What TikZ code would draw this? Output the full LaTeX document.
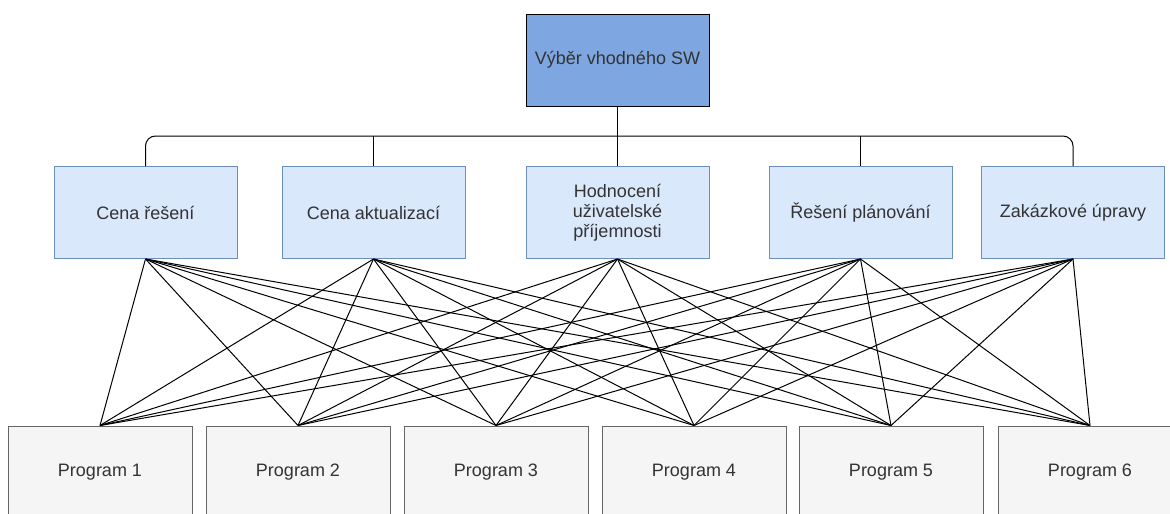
\documentclass[tikz,border=0pt]{standalone}
\usepackage{fontspec}
\setmainfont{Liberation Sans}
\definecolor{topfill}{HTML}{7EA6E0}
\definecolor{midfill}{HTML}{DAE8FC}
\definecolor{midline}{HTML}{6C8EBF}
\definecolor{botfill}{HTML}{F5F5F5}
\definecolor{botline}{HTML}{666666}
\definecolor{txt}{HTML}{333333}
\begin{document}
\begin{tikzpicture}[x=1pt,y=-1pt,
  box/.style={rectangle, minimum width=183pt, minimum height=92pt, inner sep=2pt,
    line width=1pt, text=txt, align=center,
    font=\fontsize{18}{20}\selectfont},
  topbox/.style={box, fill=topfill, draw=black},
  midbox/.style={box, fill=midfill, draw=midline},
  botbox/.style={box, fill=botfill, draw=botline, minimum width=184pt},
  link/.style={line width=1pt, black}]
\useasboundingbox (0,0) rectangle (1170,514);
\clip (0,0) rectangle (1170,514);
\fill[white] (0,0) rectangle (1170,514);

\node[topbox] (top) at (617.5,60) {Výběr vhodného SW};

\node[midbox] (c1) at (145.5,212.5) {Cena řešení};
\node[midbox] (c2) at (373.5,212.5) {Cena aktualizací};
\node[midbox] (c3) at (617.5,212.5) {Hodnocení\\uživatelské\\příjemnosti};
\node[midbox] (c4) at (860.5,212.5) {Řešení plánování};
\node[midbox] (c5) at (1073,212.5) {Zakázkové úpravy};

\node[botbox] (p1) at (100,472) {Program 1};
\node[botbox] (p2) at (298,472) {Program 2};
\node[botbox] (p3) at (496,472) {Program 3};
\node[botbox] (p4) at (694,472) {Program 4};
\node[botbox] (p5) at (891,472) {Program 5};
\node[botbox] (p6) at (1090,472) {Program 6};

\coordinate (bus) at (617.5,136);
\draw[link, rounded corners=10pt] (c1.north) |- (bus) -| (c5.north);
\draw[link] (top.south) -- (c3.north);
\draw[link] (c2.north) -- (c2.north |- bus);
\draw[link] (c4.north) -- (c4.north |- bus);

\foreach \c in {c1,c2,c3,c4,c5}{
  \foreach \p in {p1,p2,p3,p4,p5,p6}{
    \draw[link] (\c.south) -- (\p.north);
  }
}
\end{tikzpicture}
\end{document}
